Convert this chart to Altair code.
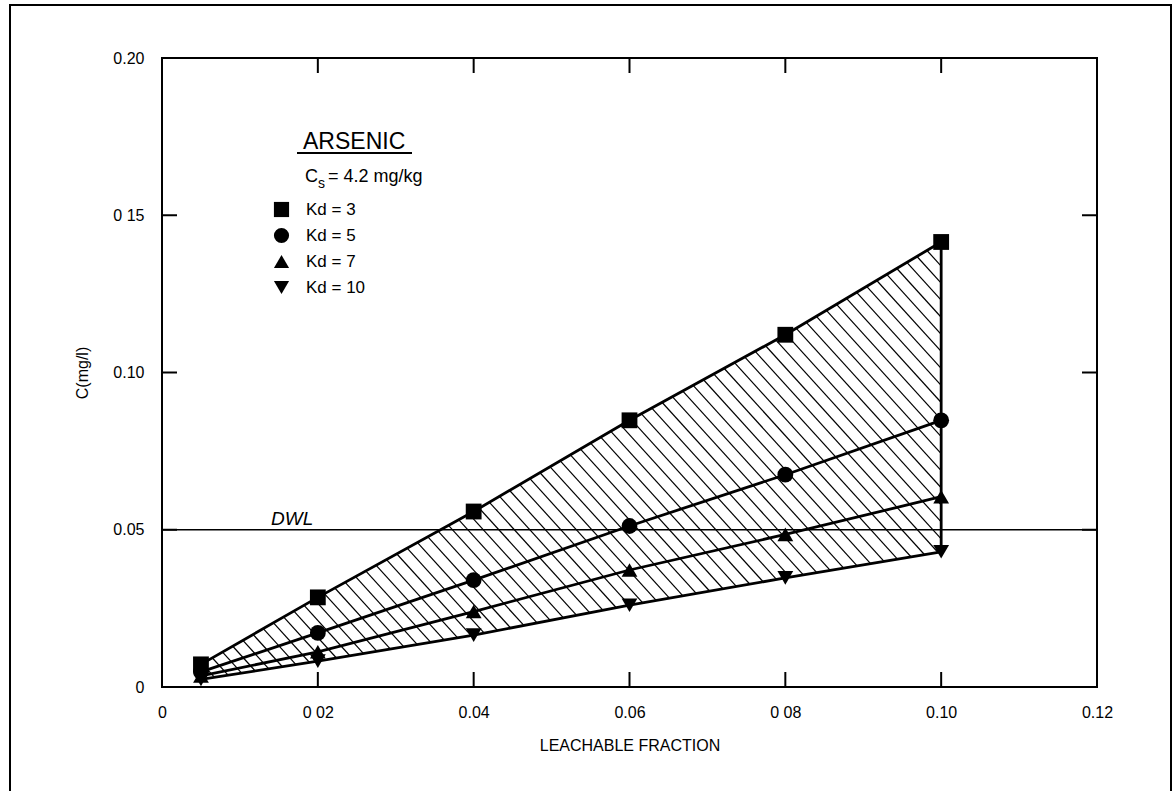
import json
import numpy as np
import pandas as pd
import altair as alt

# ---------------- data ----------------
leach = [0.005, 0.02, 0.04, 0.06, 0.08, 0.10]
kd3 = [0.0072, 0.0285, 0.0558, 0.0848, 0.1120, 0.1415]
kd5 = [0.0048, 0.0172, 0.0340, 0.0512, 0.0675, 0.0848]
kd7 = [0.0035, 0.0112, 0.0240, 0.0372, 0.0485, 0.0605]
kd10 = [0.0024, 0.0082, 0.0165, 0.0260, 0.0347, 0.0430]
kd_labels = ["Kd = 3", "Kd = 5", "Kd = 7", "Kd = 10"]
kd_shapes = ["square", "circle", "triangle-up", "triangle-down"]
x_ticks = [0, 0.02, 0.04, 0.06, 0.08, 0.10, 0.12]
x_tick_labels = ["0", "0 02", "0.04", "0.06", "0 08", "0.10", "0.12"]
y_ticks = [0, 0.05, 0.10, 0.15, 0.20]
y_tick_labels = ["0", "0.05", "0.10", "0 15", "0.20"]
inner_x_ticks = [0.02, 0.04, 0.06, 0.08, 0.10]
inner_y_ticks = [0.05, 0.10, 0.15]
dwl = 0.05

# ---------------- layout ----------------
W, H = 935, 629
XMAX, YMAX = 0.12, 0.20
FONT = "Liberation Sans"

rows = []
for lab, vals in zip(kd_labels, [kd3, kd5, kd7, kd10]):
    for xv, yv in zip(leach, vals):
        rows.append({"x": xv, "y": yv, "series": lab})
df = pd.DataFrame(rows)

# hatch lines between the Kd=3 and Kd=10 curves (derived from the data)
px_x = W / XMAX
px_y = H / YMAX
slope_px = 1.1
k = slope_px * px_x / px_y
spacing = 15.5 / px_x
grid = np.linspace(leach[0], leach[-1], 6000)
U = np.interp(grid, leach, kd3)
L = np.interp(grid, leach, kd10)
hatch = []
b = leach[0] + kd10[0] / k
b_end = leach[-1] + kd3[-1] / k
while b < b_end:
    h = (b - grid) * k
    inside = np.where((h <= U) & (h >= L))[0]
    if len(inside) > 1:
        i0, i1 = inside[0], inside[-1]
        hatch.append({"hx": grid[i0], "hy": h[i0], "hx2": grid[i1], "hy2": h[i1]})
    b += spacing
hatch_df = pd.DataFrame(hatch)

edge_df = pd.DataFrame({"x": [leach[-1]], "y": [kd10[-1]], "y2": [kd3[-1]]})
xt_df = pd.DataFrame({"x": inner_x_ticks})
yt_df = pd.DataFrame({"y": inner_y_ticks})
dwl_df = pd.DataFrame({"y": [dwl], "x": [0.014], "label": ["DWL"]})

xscale = alt.Scale(domain=[0, XMAX], nice=False, zero=False)
yscale = alt.Scale(domain=[0, YMAX], nice=False, zero=False)
xaxis = alt.Axis(values=x_ticks, labelExpr=f"{json.dumps(x_tick_labels)}[round(datum.value/0.02)]",
                 ticks=False, tickSize=0, domain=False, grid=False, labelPadding=17,
                 titlePadding=17, labelFlush=False, labelOverlap=False)
yaxis = alt.Axis(values=y_ticks, labelExpr=f"{json.dumps(y_tick_labels)}[round(datum.value/0.05)]",
                 ticks=False, tickSize=0, domain=False, grid=False, labelPadding=18,
                 titlePadding=22, labelFlush=False, labelOverlap=False)
XT = "LEACHABLE FRACTION"
YT = "C(mg/l)"


def X(f):
    return alt.X(f, type="quantitative", scale=xscale, axis=xaxis, title=XT)


def Y(f):
    return alt.Y(f, type="quantitative", scale=yscale, axis=yaxis, title=YT)


hatch_layer = alt.Chart(hatch_df).mark_rule(color="black", strokeWidth=1.2).encode(
    x=X("hx"), y=Y("hy"), x2="hx2", y2="hy2")

lines = alt.Chart(df).mark_line(color="black", strokeWidth=2.8).encode(
    x=X("x"), y=Y("y"), detail="series:N")

edge = alt.Chart(edge_df).mark_rule(color="black", strokeWidth=2.8).encode(
    x=X("x"), y=Y("y"), y2="y2")

points = alt.Chart(df).mark_point(filled=True, color="black", size=250, opacity=1).encode(
    x=X("x"), y=Y("y"),
    shape=alt.Shape("series:N", scale=alt.Scale(domain=kd_labels, range=kd_shapes),
                    sort=kd_labels,
                    legend=alt.Legend(orient="none", legendX=111, legendY=143, title=None,
                                      labelFont=FONT, labelFontSize=17, labelColor="black",
                                      symbolSize=230, symbolFillColor="black",
                                      symbolStrokeColor="black", symbolStrokeWidth=0,
                                      rowPadding=8, labelOffset=16, padding=0)))

dwl_rule = alt.Chart(dwl_df).mark_rule(color="black", strokeWidth=1.4).encode(y=Y("y"))
dwl_text = alt.Chart(dwl_df).mark_text(font=FONT, fontSize=19, fontStyle="italic", align="left",
                                      baseline="alphabetic", dy=-5, color="black").encode(
    x=X("x"), y=Y("y"), text="label:N")

tick_bottom = alt.Chart(xt_df).mark_rule(color="black", strokeWidth=2).encode(
    x=X("x"), y=alt.value(H), y2=alt.value(H - 15))
tick_top = alt.Chart(xt_df).mark_rule(color="black", strokeWidth=2).encode(
    x=X("x"), y=alt.value(0), y2=alt.value(15))
tick_left = alt.Chart(yt_df).mark_rule(color="black", strokeWidth=2).encode(
    y=Y("y"), x=alt.value(0), x2=alt.value(15))
tick_right = alt.Chart(yt_df).mark_rule(color="black", strokeWidth=2).encode(
    y=Y("y"), x=alt.value(W), x2=alt.value(W - 15))

# annotation block (title of the key)
ann = alt.Chart(pd.DataFrame({"a": [0]}))
arsenic = ann.mark_text(text="ARSENIC", font=FONT, fontSize=23, align="left",
                        baseline="alphabetic", color="black").encode(
    x=alt.value(141), y=alt.value(91))
underline = ann.mark_rule(color="black", strokeWidth=2).encode(
    x=alt.value(135), x2=alt.value(250), y=alt.value(95))
c_txt = ann.mark_text(text="C", font=FONT, fontSize=18, align="left",
                      baseline="alphabetic", color="black").encode(
    x=alt.value(143), y=alt.value(124))
s_txt = ann.mark_text(text="s", font=FONT, fontSize=14, align="left",
                      baseline="alphabetic", color="black").encode(
    x=alt.value(156), y=alt.value(130))
eq_txt = ann.mark_text(text="= 4.2 mg/kg", font=FONT, fontSize=18, align="left",
                       baseline="alphabetic", color="black").encode(
    x=alt.value(166), y=alt.value(124))

frame = ann.mark_rect(filled=False, stroke="black", strokeWidth=2).encode(
    x=alt.value(-152), x2=alt.value(1009), y=alt.value(-53), y2=alt.value(760))

chart = alt.layer(
    hatch_layer, dwl_rule, dwl_text, lines, edge, points,
    tick_bottom, tick_top, tick_left, tick_right,
    arsenic, underline, c_txt, s_txt, eq_txt, frame
).properties(
    width=W, height=H,
    autosize=alt.AutoSizeParams(type="none"),
    padding={"left": 162, "top": 58, "right": 79, "bottom": 104},
    background="white",
).configure_view(
    stroke="black", strokeWidth=2
).configure_axis(
    labelFont=FONT, labelFontSize=16, labelColor="black",
    titleFont=FONT, titleFontSize=16, titleColor="black", titleFontWeight="normal"
)

chart.save("out.html", embed_options={"renderer": "svg", "actions": False})
